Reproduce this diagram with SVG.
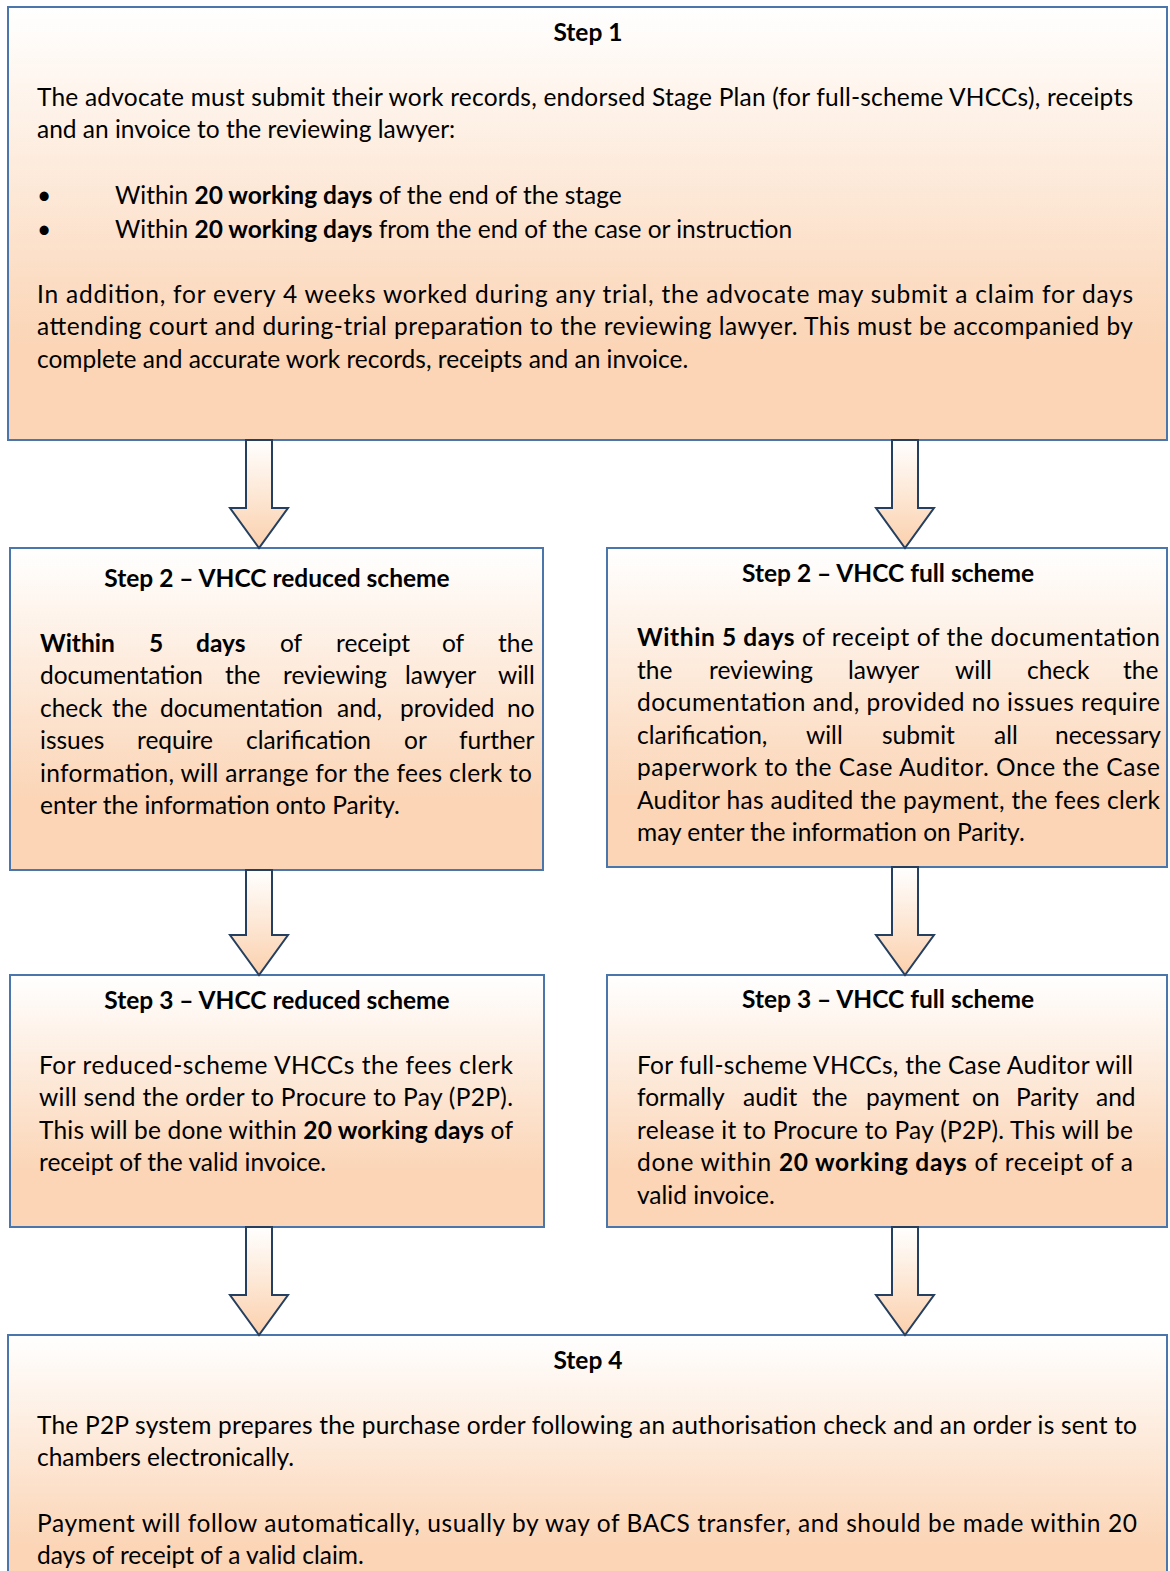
<svg xmlns="http://www.w3.org/2000/svg" width="1170" height="1571" viewBox="0 0 1170 1571">
<defs>
<linearGradient id="g" x1="0" y1="0" x2="0" y2="1">
<stop offset="0" stop-color="#ffffff"/>
<stop offset="0.78" stop-color="#fbd5b6"/>
<stop offset="1" stop-color="#fbd5b6"/>
</linearGradient>
<linearGradient id="ga" x1="0" y1="0" x2="0" y2="1">
<stop offset="0" stop-color="#ffffff"/>
<stop offset="1" stop-color="#fbd0ac"/>
</linearGradient>
<style>
.t{font-family:Lato,"Liberation Sans",sans-serif;font-size:24.5px;fill:#000}
.b{font-weight:bold}
.c{text-anchor:middle}
.box{fill:url(#g);stroke:#4a76ab;stroke-width:2}
.arr{fill:url(#ga);stroke:#243f60;stroke-width:2;stroke-linejoin:miter}
</style>
</defs>
<rect width="1170" height="1571" fill="#ffffff"/>

<g id="step1">
<rect class="box" x="8" y="7" width="1159" height="433"/>
<text class="t b c" x="588" y="41">Step 1</text>
<text class="t" x="37" y="106" textLength="1096" lengthAdjust="spacing">The advocate must submit their work records, endorsed Stage Plan (for full-scheme VHCCs), receipts</text>
<text class="t" x="37" y="138">and an invoice to the reviewing lawyer:</text>
<text class="t" x="37" y="204">•</text>
<text class="t" x="115" y="204">Within <tspan class="b">20 working days</tspan> of the end of the stage</text>
<text class="t" x="37" y="238">•</text>
<text class="t" x="115" y="238">Within <tspan class="b">20 working days</tspan> from the end of the case or instruction</text>
<text class="t" x="37" y="303" textLength="1096" lengthAdjust="spacing">In addition, for every 4 weeks worked during any trial, the advocate may submit a claim for days</text>
<text class="t" x="37" y="335" textLength="1096" lengthAdjust="spacing">attending court and during-trial preparation to the reviewing lawyer. This must be accompanied by</text>
<text class="t" x="37" y="368">complete and accurate work records, receipts and an invoice.</text>
</g>

<g id="step2-reduced">
<rect class="box" x="10" y="548" width="533" height="322"/>
<text class="t b c" x="277" y="587">Step 2 – VHCC reduced scheme</text>
<text class="t" y="652"><tspan class="b" x="40">Within</tspan><tspan class="b" x="149">5</tspan><tspan class="b" x="196">days</tspan><tspan x="280">of</tspan><tspan x="336">receipt</tspan><tspan x="442">of</tspan><tspan x="498">the</tspan></text>
<text class="t" y="684"><tspan x="40">documentation</tspan><tspan x="225">the</tspan><tspan x="283">reviewing</tspan><tspan x="405">lawyer</tspan><tspan x="498">will</tspan></text>
<text class="t" y="717"><tspan x="40">check</tspan><tspan x="112">the</tspan><tspan x="160">documentation</tspan><tspan x="337">and,</tspan><tspan x="400">provided</tspan><tspan x="507">no</tspan></text>
<text class="t" y="749"><tspan x="40">issues</tspan><tspan x="137">require</tspan><tspan x="246">clarification</tspan><tspan x="404">or</tspan><tspan x="459">further</tspan></text>
<text class="t" x="40" y="782" textLength="492" lengthAdjust="spacing">information, will arrange for the fees clerk to</text>
<text class="t" x="40" y="814">enter the information onto Parity.</text>
</g>

<g id="step2-full">
<rect class="box" x="607" y="548" width="560" height="319"/>
<text class="t b c" x="888" y="582">Step 2 – VHCC full scheme</text>
<text class="t" x="637" y="646" textLength="523" lengthAdjust="spacing"><tspan class="b">Within 5 days</tspan> of receipt of the documentation</text>
<text class="t" y="679"><tspan x="637">the</tspan><tspan x="709">reviewing</tspan><tspan x="848">lawyer</tspan><tspan x="955">will</tspan><tspan x="1027">check</tspan><tspan x="1123">the</tspan></text>
<text class="t" x="637" y="711" textLength="523" lengthAdjust="spacing">documentation and, provided no issues require</text>
<text class="t" y="744"><tspan x="637">clarification,</tspan><tspan x="806">will</tspan><tspan x="882">submit</tspan><tspan x="994">all</tspan><tspan x="1055">necessary</tspan></text>
<text class="t" x="637" y="776" textLength="523" lengthAdjust="spacing">paperwork to the Case Auditor. Once the Case</text>
<text class="t" x="637" y="809" textLength="523" lengthAdjust="spacing">Auditor has audited the payment, the fees clerk</text>
<text class="t" x="637" y="841">may enter the information on Parity.</text>
</g>

<g id="step3-reduced">
<rect class="box" x="10" y="975" width="534" height="252"/>
<text class="t b c" x="277" y="1009">Step 3 – VHCC reduced scheme</text>
<text class="t" x="39" y="1074" textLength="474" lengthAdjust="spacing">For reduced-scheme VHCCs the fees clerk</text>
<text class="t" x="39" y="1106" textLength="474" lengthAdjust="spacing">will send the order to Procure to Pay (P2P).</text>
<text class="t" x="39" y="1139" textLength="474" lengthAdjust="spacing">This will be done within <tspan class="b">20 working days</tspan> of</text>
<text class="t" x="39" y="1171">receipt of the valid invoice.</text>
</g>

<g id="step3-full">
<rect class="box" x="607" y="975" width="560" height="252"/>
<text class="t b c" x="888" y="1008">Step 3 – VHCC full scheme</text>
<text class="t" x="637" y="1074" textLength="496" lengthAdjust="spacing">For full-scheme VHCCs, the Case Auditor will</text>
<text class="t" y="1106"><tspan x="637">formally</tspan><tspan x="743">audit</tspan><tspan x="812">the</tspan><tspan x="866">payment</tspan><tspan x="972">on</tspan><tspan x="1016">Parity</tspan><tspan x="1096">and</tspan></text>
<text class="t" x="637" y="1139" textLength="496" lengthAdjust="spacing">release it to Procure to Pay (P2P). This will be</text>
<text class="t" x="637" y="1171" textLength="496" lengthAdjust="spacing">done within <tspan class="b">20 working days</tspan> of receipt of a</text>
<text class="t" x="637" y="1204">valid invoice.</text>
</g>

<g id="step4">
<rect class="box" x="8" y="1335" width="1159" height="270"/>
<text class="t b c" x="588" y="1369">Step 4</text>
<text class="t" x="37" y="1434" textLength="1100" lengthAdjust="spacing">The P2P system prepares the purchase order following an authorisation check and an order is sent to</text>
<text class="t" x="37" y="1466">chambers electronically.</text>
<text class="t" x="37" y="1532" textLength="1100" lengthAdjust="spacing">Payment will follow automatically, usually by way of BACS transfer, and should be made within 20</text>
<text class="t" x="37" y="1564">days of receipt of a valid claim.</text>
</g>

<g id="connectors">
<path class="arr" d="M246,440 H272 V508 H288 L259,548 L230,508 H246 Z"/>
<path class="arr" d="M892,440 H918 V508 H934 L905,548 L876,508 H892 Z"/>
<path class="arr" d="M246,870 H272 V935 H288 L259,975 L230,935 H246 Z"/>
<path class="arr" d="M892,867 H918 V935 H934 L905,975 L876,935 H892 Z"/>
<path class="arr" d="M246,1227 H272 V1295 H288 L259,1335 L230,1295 H246 Z"/>
<path class="arr" d="M892,1227 H918 V1295 H934 L905,1335 L876,1295 H892 Z"/>
</g>
</svg>
